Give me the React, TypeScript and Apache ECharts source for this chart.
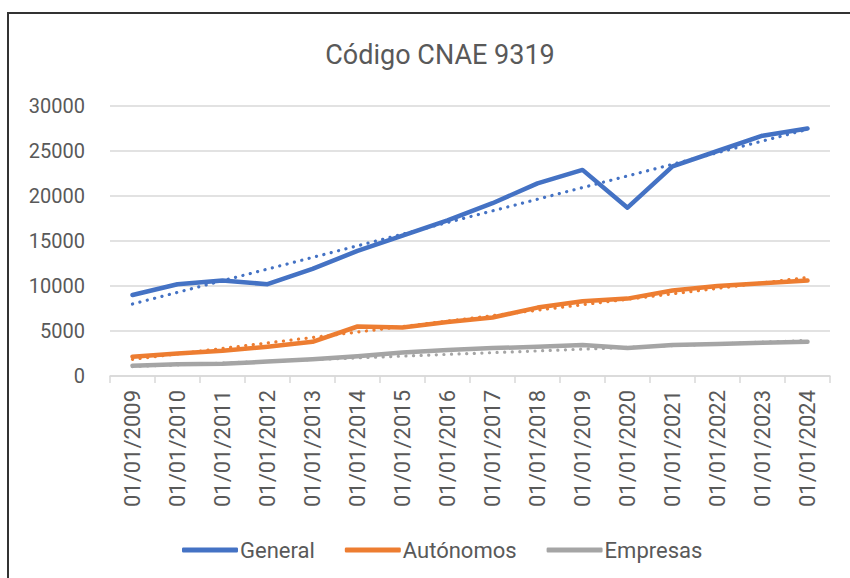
import React, { useEffect, useRef } from "react";
import * as echarts from "echarts";

const categories = [
  "01/01/2009", "01/01/2010", "01/01/2011", "01/01/2012", "01/01/2013", "01/01/2014",
  "01/01/2015", "01/01/2016", "01/01/2017", "01/01/2018", "01/01/2019", "01/01/2020",
  "01/01/2021", "01/01/2022", "01/01/2023", "01/01/2024",
];
const general = [9000, 10200, 10600, 10200, 11900, 13900, 15600, 17300, 19200, 21400, 22900, 18700, 23300, 25000, 26700, 27500];
const autonomos = [2150, 2500, 2800, 3250, 3800, 5500, 5400, 6000, 6500, 7600, 8300, 8600, 9500, 10000, 10300, 10600];
const empresas = [1150, 1300, 1350, 1600, 1850, 2200, 2600, 2900, 3100, 3250, 3450, 3100, 3450, 3550, 3700, 3800];
// trendline endpoints (2009, 2024)
const generalTrend = [8000, 27400];
const autonomosTrend = [1850, 10950];
const empresasTrend = [1050, 3950];
const yTicks = { min: 0, max: 30000, interval: 5000 };

const FONT = "Roboto, 'Noto Sans', sans-serif";
const TXT = "#595959";

function trendData(ends: number[]) {
  return categories.map((_, i) => (i === 0 ? ends[0] : i === categories.length - 1 ? ends[1] : null));
}

export default function App() {
  const ref = useRef<HTMLDivElement>(null);
  useEffect(() => {
    if (!ref.current) return;
    const chart = echarts.init(ref.current, undefined, { renderer: "svg" });
    const solid = (name: string, data: number[], color: string) => ({
      name,
      type: "line",
      data,
      symbol: "none",
      lineStyle: { color, width: 4.5, cap: "round", join: "round" },
      itemStyle: { color },
      z: 2,
    });
    const trend = (name: string, ends: number[], color: string) => ({
      name,
      type: "line",
      data: trendData(ends),
      connectNulls: true,
      symbol: "none",
      lineStyle: { color, width: 3.2, type: [0.1, 7.5], cap: "round" },
      itemStyle: { color },
      z: 3,
      silent: true,
    });
    chart.setOption({
      animation: false,
      backgroundColor: "#ffffff",
      title: {
        text: "Código CNAE 9319",
        left: 435,
        top: 36,
        textAlign: "center",
        textStyle: { fontFamily: FONT, fontSize: 27, fontWeight: "normal", color: TXT },
      },
      graphic: [
        {
          type: "rect",
          shape: { x: 8, y: 13, width: 900, height: 700 },
          style: { fill: "none", stroke: "#333333", lineWidth: 2 },
          silent: true,
          z: 100,
        },
      ],
      legend: {
        data: ["General", "Autónomos", "Empresas"],
        left: 177,
        top: 534,
        itemWidth: 56,
        itemHeight: 5,
        itemGap: 30,
        icon: "roundRect",
        textStyle: { fontFamily: FONT, fontSize: 22, color: TXT, padding: [0, 0, 0, -3] },
      },
      grid: { left: 110, right: 20, top: 106, bottom: 202, containLabel: false },
      xAxis: {
        type: "category",
        data: categories,
        boundaryGap: true,
        axisLine: { lineStyle: { color: "#D9D9D9", width: 1.5 } },
        axisTick: { show: true, length: 7, interval: 0, lineStyle: { color: "#D9D9D9", width: 1.5 } },
        axisLabel: {
          rotate: 90,
          interval: 0,
          margin: 14,
          fontFamily: FONT,
          fontSize: 22,
          color: TXT,
        },
      },
      yAxis: {
        type: "value",
        min: yTicks.min,
        max: yTicks.max,
        interval: yTicks.interval,
        axisLine: { show: false },
        axisTick: { show: false },
        splitLine: { lineStyle: { color: "#D9D9D9", width: 1.5 } },
        axisLabel: {
          fontFamily: FONT,
          fontSize: 20,
          color: TXT,
          margin: 25,
          formatter: (v: number) => String(v),
        },
      },
      series: [
        solid("General", general, "#4472C4"),
        solid("Autónomos", autonomos, "#ED7D31"),
        solid("Empresas", empresas, "#A5A5A5"),
        trend("General trend", generalTrend, "#4472C4"),
        trend("Autónomos trend", autonomosTrend, "#ED7D31"),
        trend("Empresas trend", empresasTrend, "#A5A5A5"),
      ],
    });
    return () => chart.dispose();
  }, []);
  return (
    <div
      ref={ref}
      style={{ position: "absolute", left: 0, top: 0, width: 850, height: 578, background: "#fff" }}
    />
  );
}
